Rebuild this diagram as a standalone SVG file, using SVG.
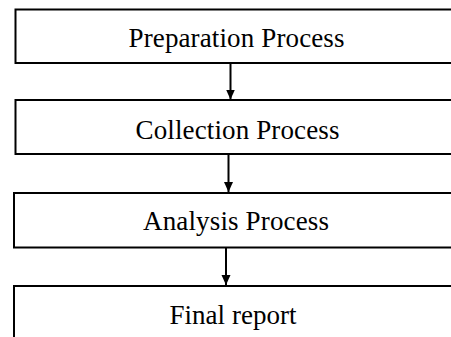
<svg xmlns="http://www.w3.org/2000/svg" width="451" height="337" viewBox="0 0 451 337">
<style>
.box{fill:#fff;stroke:#000;stroke-width:2}
.lbl{font-family:'Liberation Serif',serif;font-size:27px;fill:#000;text-anchor:middle}
.conn{stroke:#000;stroke-width:2;fill:none}
</style>
<defs>
<marker id="ah" markerUnits="userSpaceOnUse" markerWidth="11" markerHeight="10" refX="10" refY="4.5" orient="auto" viewBox="0 0 11 9">
<path d="M0,0 L10,4.5 L0,9 Z" fill="#000"/>
</marker>
</defs>
<rect width="451" height="337" fill="#fff"/>
<g id="n1"><rect class="box" x="15.5" y="9.5" width="450" height="53.5"/><text class="lbl" x="236.5" y="46.5" textLength="216" lengthAdjust="spacing">Preparation Process</text></g>
<g id="n2"><rect class="box" x="15.5" y="100" width="450" height="54"/><text class="lbl" x="237.5" y="138.5" textLength="204" lengthAdjust="spacing">Collection Process</text></g>
<g id="n3"><rect class="box" x="14" y="193" width="450" height="54.5"/><text class="lbl" x="236" y="229.5" textLength="186" lengthAdjust="spacing">Analysis Process</text></g>
<g id="n4"><rect class="box" x="14" y="286" width="450" height="80"/><text class="lbl" x="233" y="323.5" textLength="127" lengthAdjust="spacing">Final report</text></g>
<g id="connectors">
<line class="conn" x1="230.5" y1="63" x2="230.5" y2="99.5" marker-end="url(#ah)"/>
<line class="conn" x1="228.5" y1="154" x2="228.5" y2="192" marker-end="url(#ah)"/>
<line class="conn" x1="226" y1="247.5" x2="226" y2="285" marker-end="url(#ah)"/>
</g>
</svg>
